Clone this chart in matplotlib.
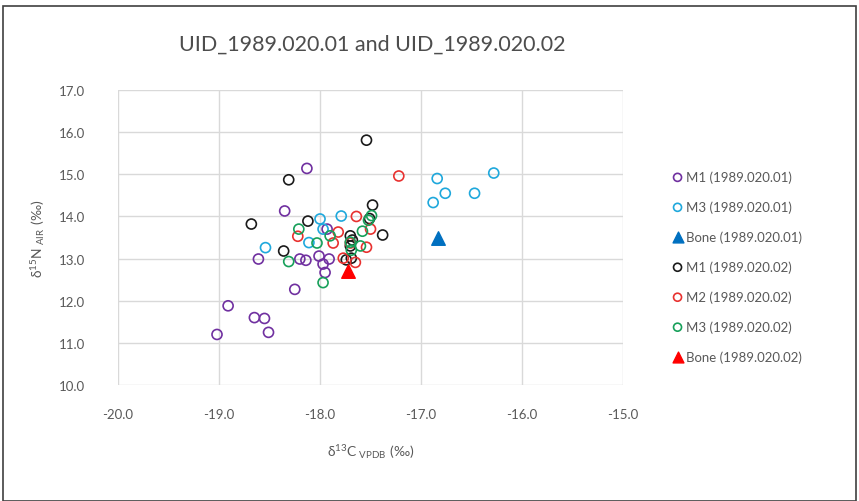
import matplotlib
matplotlib.use("Agg")
import matplotlib.pyplot as plt
from matplotlib.patches import Rectangle

plt.rcParams['font.family'] = ['Lato', 'DejaVu Sans']
plt.rcParams['mathtext.fontset'] = 'custom'
plt.rcParams['mathtext.rm'] = 'Lato'

# delta13C (x) and delta15N (y) per series
m1_01_x = [-19.02, -18.91, -18.65, -18.55, -18.51, -18.25, -18.61, -18.35, -18.13,
           -18.20, -18.14, -18.01, -17.97, -17.91, -17.95, -17.93]
m1_01_y = [11.20, 11.88, 11.60, 11.58, 11.25, 12.27, 12.99, 14.13, 15.14,
           12.99, 12.96, 13.06, 12.87, 12.99, 12.67, 13.70]

m3_01_x = [-16.84, -16.76, -16.88, -16.47, -16.28, -18.00, -17.79, -18.11, -18.54, -17.97]
m3_01_y = [14.90, 14.55, 14.33, 14.55, 15.03, 13.94, 14.01, 13.38, 13.26, 13.70]

bone_01_x = [-16.83]
bone_01_y = [13.48]

m1_02_x = [-17.54, -18.31, -17.48, -18.68, -18.12, -18.36, -17.38, -17.70, -17.70,
           -17.74, -17.69, -17.51, -17.68]
m1_02_y = [15.81, 14.87, 14.27, 13.82, 13.89, 13.18, 13.56, 13.54, 13.30,
           12.97, 13.01, 13.95, 13.44]

m2_02_x = [-17.22, -17.64, -18.22, -17.87, -17.82, -17.50, -17.54, -17.77, -17.65, -17.70]
m2_02_y = [14.96, 14.00, 13.53, 13.37, 13.63, 13.70, 13.27, 13.01, 12.91, 13.37]

m3_02_x = [-18.21, -18.31, -17.97, -18.03, -17.90, -17.69, -17.58, -17.60, -17.49, -17.52, -17.70]
m3_02_y = [13.70, 12.93, 12.43, 13.37, 13.54, 13.20, 13.65, 13.30, 14.02, 13.91, 13.39]

bone_02_x = [-17.72]
bone_02_y = [12.70]

x_ticks = [-20.0, -19.0, -18.0, -17.0, -16.0, -15.0]
y_ticks = [10.0, 11.0, 12.0, 13.0, 14.0, 15.0, 16.0, 17.0]

fig = plt.figure(figsize=(8.59, 5.02), dpi=100)
ax = fig.add_axes([0.1374, 0.231, 0.5879, 0.5877])

circ = dict(marker='o', facecolors='none', s=52, linewidths=1.2)
ax.scatter(m1_01_x, m1_01_y, edgecolors='#7030A0', label='M1 (1989.020.01)', zorder=3, **circ)
ax.scatter(m3_01_x, m3_01_y, edgecolors='#1FA8DC', label='M3 (1989.020.01)', zorder=3, **circ)
ax.scatter(bone_01_x, bone_01_y, marker='^', color='#0070C0', s=95,
           label='Bone (1989.020.01)', zorder=4)
ax.scatter(m1_02_x, m1_02_y, edgecolors='#1A1A1A', label='M1 (1989.020.02)', zorder=3, **circ)
ax.scatter(m2_02_x, m2_02_y, edgecolors='#E8312F', label='M2 (1989.020.02)', zorder=3, **circ)
ax.scatter(m3_02_x, m3_02_y, edgecolors='#17A05A', label='M3 (1989.020.02)', zorder=3, **circ)
ax.scatter(bone_02_x, bone_02_y, marker='^', color='#FF0000', s=95,
           label='Bone (1989.020.02)', zorder=4)

ax.set_xlim(-20, -15)
ax.set_ylim(10, 17)
ax.set_xticks(x_ticks)
ax.set_yticks(y_ticks)
ax.set_xticklabels([f"{v:.1f}" for v in x_ticks])
ax.set_yticklabels([f"{v:.1f}" for v in y_ticks])
ax.tick_params(length=0, labelsize=9.5, colors='#595959')
ax.tick_params(axis='x', pad=16.5)
ax.tick_params(axis='y', pad=24)
ax.grid(True, color='#D9D9D9', linewidth=1)
ax.set_axisbelow(True)
for sp in ax.spines.values():
    sp.set_visible(False)

ax.set_xlabel(r'$\mathregular{\delta^{13}C_{\ VPDB}\ (‰)}$', fontsize=10, color='#595959', labelpad=16)
ax.set_ylabel(r'$\mathregular{\delta^{15}N_{\ AIR}\ (‰)}$', fontsize=10, color='#595959', labelpad=8)

fig.text(372 / 859, 1 - 45 / 502, 'UID_1989.020.01 and UID_1989.020.02',
         ha='center', va='center', fontsize=15.5, color='#4D4D4D')

leg = ax.legend(loc='upper left', bbox_to_anchor=(665 / 859, 1 - 166 / 502),
                bbox_transform=fig.transFigure, frameon=False, fontsize=9.5,
                labelspacing=1.32, handletextpad=0.1, handlelength=1.1,
                markerscale=0.8, borderaxespad=0)
for t in leg.get_texts():
    t.set_color('#595959')

fig.patches.append(Rectangle((3 / 859, 0), 853 / 859, 1 - 7 / 502, transform=fig.transFigure,
                             fill=False, edgecolor='#404040', linewidth=1.2))

fig.savefig('out.png', dpi=100)
